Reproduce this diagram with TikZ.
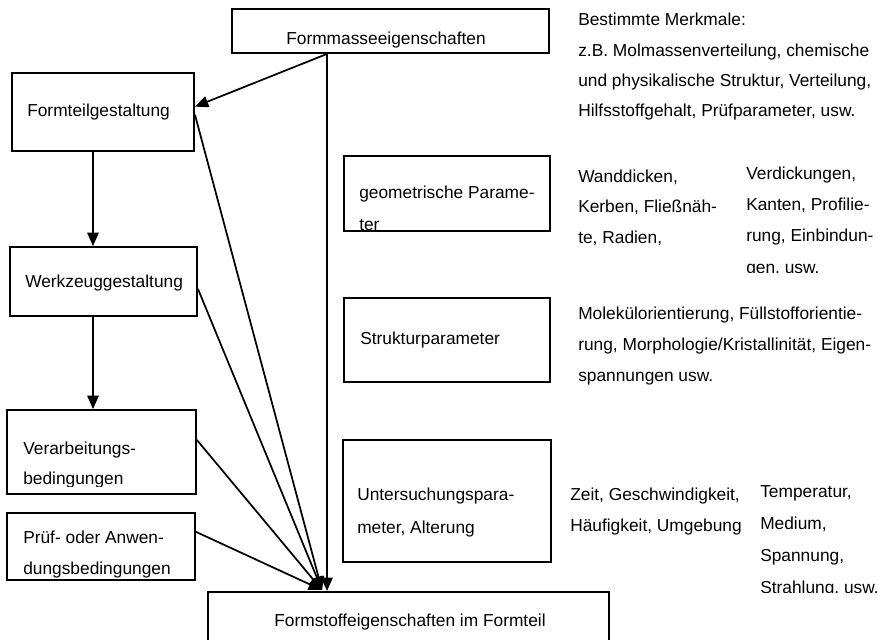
\documentclass[tikz,border=0pt]{standalone}
\usepackage{fontspec}
\setmainfont{Liberation Sans}
\usetikzlibrary{arrows.meta,fit}
\begin{document}
\begin{tikzpicture}[x=0.75pt,y=-0.75pt,
  box/.style={draw,line width=1.4pt,inner sep=0pt},
  lbl/.style={anchor=base west,inner sep=0pt,font=\fontsize{13}{15}\selectfont},
  clbl/.style={anchor=base,inner sep=0pt,font=\fontsize{13}{15}\selectfont},
  conn/.style={line width=1.3pt,-{Triangle[length=10pt,width=8.5pt]}},
]
\useasboundingbox (0,0) rectangle (878,639);
% boxes
\node[box,fit={(232,9) (549,53)}] (top) {};
\node[box,fit={(12,73) (194,151)}] (formteil) {};
\node[box,fit={(10,247) (197,316)}] (werkzeug) {};
\node[box,fit={(7,410) (196,494)}] (verarb) {};
\node[box,fit={(7,513) (195,580)}] (pruef) {};
\node[box,fit={(344,156) (550,231)}] (geo) {};
\node[box,fit={(344,298) (550,382)}] (struk) {};
\node[box,fit={(343,440) (551,562)}] (unters) {};
\node[box,fit={(208,592) (609,670)}] (bottom) {};
% box texts
\node[clbl] (ttop) at (386,44) {Formmasseeigenschaften};
\node[lbl] (tformteil) at (27,116) {Formteilgestaltung};
\node[lbl] (twerk) at (25,287) {Werkzeuggestaltung};
\node[lbl] (tverarb1) at (23,454) {Verarbeitungs-};
\begin{scope}
\clip (7,410) rectangle (196,486);
\node[lbl] (tverarb2) at (23,484) {bedingungen};
\end{scope}
\node[lbl] (tpruef1) at (23,543) {Prüf- oder Anwen-};
\node[lbl] (tpruef2) at (23,574) {dungsbedingungen};
\node[lbl] (tgeo1) at (359,198) {geometrische Parame-};
\begin{scope}
\clip (344,156) rectangle (550,229);
\node[lbl] (tgeo2) at (359,230) {ter};
\end{scope}
\node[lbl] (tstruk) at (360,344) {Strukturparameter};
\node[lbl] (tunt1) at (357,500) {Untersuchungspara-};
\node[lbl] (tunt2) at (357,533) {meter, Alterung};
\node[clbl] (tbottom) at (410,626) {Formstoffeigenschaften im Formteil};
% side texts
\node[lbl] (m1) at (578,26) {Bestimmte Merkmale:};
\node[lbl] (m2) at (578,56) {z.B. Molmassenverteilung, chemische};
\node[lbl] (m3) at (578,86) {und physikalische Struktur, Verteilung,};
\node[lbl] (m4) at (578,116) {Hilfsstoffgehalt, Prüfparameter, usw.};
\node[lbl] (w1) at (578,182) {Wanddicken,};
\node[lbl] (w2) at (578,212) {Kerben, Fließnäh-};
\node[lbl] (w3) at (578,243) {te, Radien,};
\node[lbl] (v1) at (746,179) {Verdickungen,};
\node[lbl] (v2) at (746,210) {Kanten, Profilie-};
\node[lbl] (v3) at (746,241) {rung, Einbindun-};
\begin{scope}
\clip (740,150) rectangle (878,272);
\node[lbl] (v4) at (746,273) {gen, usw.};
\end{scope}
\node[lbl] (s1) at (578,319) {Molekülorientierung, Füllstofforientie-};
\node[lbl] (s2) at (578,350) {rung, Morphologie/Kristallinität, Eigen-};
\node[lbl] (s3) at (578,381) {spannungen usw.};
\node[lbl] (z1) at (570,500) {Zeit, Geschwindigkeit,};
\node[lbl] (z2) at (570,531) {Häufigkeit, Umgebung};
\node[lbl] (p1) at (760,497) {Temperatur,};
\node[lbl] (p2) at (760,529) {Medium,};
\node[lbl] (p3) at (760,561) {Spannung,};
\begin{scope}
\clip (750,540) rectangle (878,592);
\node[lbl] (p4) at (760,593) {Strahlung, usw.};
\end{scope}
% connectors
\coordinate (vbot) at (327,591);
\coordinate (conv) at (322,590);
\draw[conn] (vbot |- top.south) -- (vbot);
\draw[conn] (vbot |- top.south) -- ([yshift=4pt]formteil.east);
\draw[conn] (formteil.south -| 93,0) -- (werkzeug.north -| 93,0);
\draw[conn] (werkzeug.south -| 93,0) -- (verarb.north -| 93,0);
\draw[conn] ([yshift=-2pt]formteil.east) -- (conv);
\draw[conn] ([yshift=-5.5pt]werkzeug.east) -- (conv);
\draw[conn] ([yshift=9pt]verarb.east) -- (conv);
\draw[conn] ([yshift=11pt]pruef.east) -- (conv);
\end{tikzpicture}
\end{document}
